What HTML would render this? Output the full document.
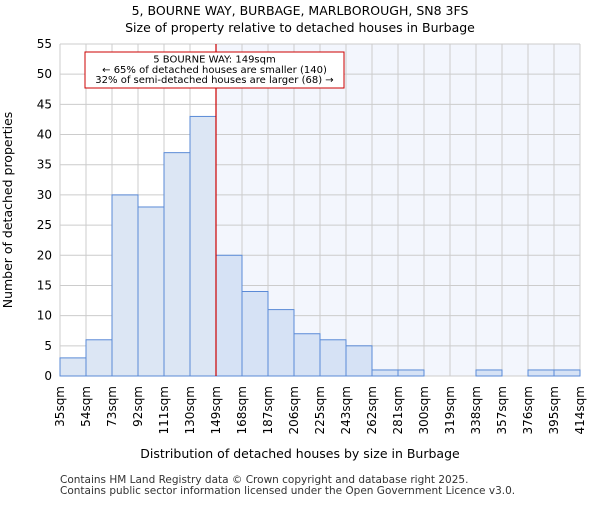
<!DOCTYPE html>
<html><head><meta charset="utf-8"><style>body{margin:0;background:#fff}svg{font-family:"DejaVu Sans","Liberation Sans",sans-serif}</style></head>
<body>
<svg id="c" width="600" height="500">
<text x="300" y="15" text-anchor="middle" font-size="12.5">5, BOURNE WAY, BURBAGE, MARLBOROUGH, SN8 3FS</text>
<text x="300" y="32" text-anchor="middle" font-size="12.5">Size of property relative to detached houses in Burbage</text>
<g id="plot"></g>
<text x="300" y="458" text-anchor="middle" font-size="12.5">Distribution of detached houses by size in Burbage</text>
<text transform="translate(12,210) rotate(-90)" text-anchor="middle" font-size="12.5">Number of detached properties</text>
<text x="60" y="483" font-size="10.5" fill="#333">Contains HM Land Registry data © Crown copyright and database right 2025.</text>
<text x="60" y="494" font-size="10.5" fill="#333">Contains public sector information licensed under the Open Government Licence v3.0.</text>
</svg>
<script>
const categories=["35sqm","54sqm","73sqm","92sqm","111sqm","130sqm","149sqm","168sqm","187sqm","206sqm","225sqm","243sqm","262sqm","281sqm","300sqm","319sqm","338sqm","357sqm","376sqm","395sqm","414sqm"];
const counts=[3,6,30,28,37,43,20,14,11,7,6,5,1,1,0,0,1,0,1,1];
const yTicks=[0,5,10,15,20,25,30,35,40,45,50,55];
const markerBin=6;
const L=60,R=580,T=44,B=376,yMax=55;
const bw=(R-L)/counts.length;
const x=i=>L+i*bw, y=v=>B-(v/yMax)*(B-T);
const g=document.getElementById('plot');const NS='http://www.w3.org/2000/svg';
function mk(t,a){const e=document.createElementNS(NS,t);for(const k in a)e.setAttribute(k,a[k]);g.appendChild(e);return e;}
let e=mk('rect',{x:x(markerBin),y:T,width:R-x(markerBin),height:B-T,fill:'#f3f6fd'});


yTicks.forEach(v=>{let l=mk('line',{x1:L,x2:R,y1:y(v),y2:y(v),stroke:'#cccccc'});


let t=mk('text',{x:L-8,y:y(v)+4,'text-anchor':'end','font-size':'12'});t.textContent=v;

});
categories.forEach((c,i)=>{let l=mk('line',{x1:x(i),x2:x(i),y1:T,y2:B,stroke:'#cccccc'});


let t=mk('text',{transform:`translate(${x(i)+4},${B+10}) rotate(-90)`,'text-anchor':'end','font-size':'12'});t.textContent=c;

});
counts.forEach((v,i)=>{if(v<=0)return;let r=mk('rect',{x:x(i),y:y(v),width:bw,height:B-y(v),fill:i<markerBin?'#dce6f4':'#d6e2f5',stroke:'#5a8ad6','stroke-width':1});

});
e=mk('line',{x1:x(markerBin),x2:x(markerBin),y1:T,y2:B,stroke:'#cc0000','stroke-width':1.2});


e=mk('rect',{x:85,y:52,width:259,height:36,fill:'#fff',stroke:'#cc0000'});


["5 BOURNE WAY: 149sqm","← 65% of detached houses are smaller (140)","32% of semi-detached houses are larger (68) →"].forEach((s,k)=>{let t=mk('text',{x:214.5,y:62.5+k*10.3,'text-anchor':'middle','font-size':'10'});t.textContent=s;

});
</script>
</body></html>
